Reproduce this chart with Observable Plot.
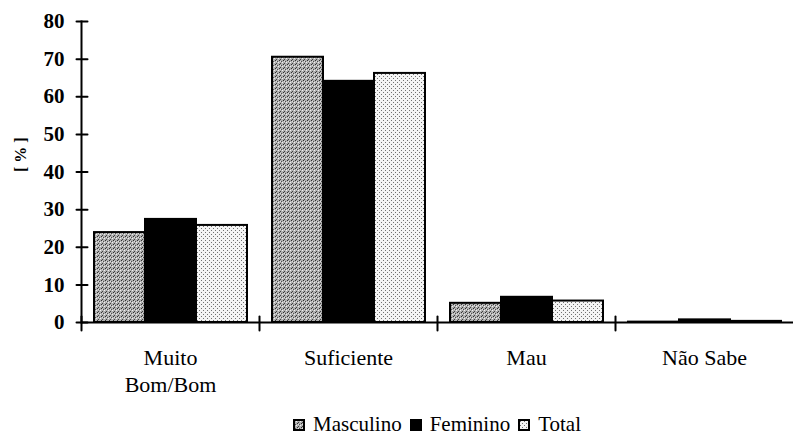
<!DOCTYPE html>
<html><head><meta charset="utf-8">
<script src="https://cdn.jsdelivr.net/npm/d3@7"></script>
<script src="https://cdn.jsdelivr.net/npm/@observablehq/plot@0.6"></script>
<style>
body{margin:0;background:#fff;font-family:serif;}
#wrap{position:relative;width:795px;height:437px;font-family:serif;}
#legend{position:absolute;left:80px;width:714px;top:414px;display:flex;justify-content:center;align-items:center;font-size:21px;line-height:21px;color:#000;font-family:serif;}
#legend .item{display:flex;align-items:center;margin:0 4px;}
#legend svg{margin-right:8px;}
svg text{font-family:serif;}
</style>
</head><body>
<svg width="0" height="0" style="position:absolute"><defs>
<pattern id="pMasc" width="4" height="4" patternUnits="userSpaceOnUse">
 <rect width="4" height="4" fill="#b0b0b0"/>
 <rect x="0" y="0" width="1" height="1" fill="#303030"/>
 <rect x="2" y="1" width="1" height="1" fill="#505050"/>
 <rect x="1" y="3" width="1" height="1" fill="#404040"/>
 <rect x="3" y="2" width="1" height="1" fill="#f0f0f0"/>
 <rect x="1" y="1" width="1" height="1" fill="#e0e0e0"/>
</pattern>
<pattern id="pTot" width="4" height="4" patternUnits="userSpaceOnUse">
 <rect width="4" height="4" fill="#f4f4f4"/>
 <rect x="0" y="0" width="1" height="1" fill="#707070"/>
 <rect x="2" y="2" width="1" height="1" fill="#707070"/>
</pattern>
</defs></svg>
<div id="wrap"><div id="chart"></div><div id="legend"></div></div>
<script>
const categories = ["Muito\nBom/Bom", "Suficiente", "Mau", "Não Sabe"];
const seriesNames = ["Masculino", "Feminino", "Total"];
const masculino = [23.9, 70.5, 5.1, 0.1];
const feminino = [27.4, 64.1, 6.7, 0.7];
const total = [25.8, 66.2, 5.7, 0.3];
const yTicks = [0, 10, 20, 30, 40, 50, 60, 70, 80];
const yLabel = "[ % ]";
const fills = ["url(#pMasc)", "#000", "url(#pTot)"];

const seriesValues = [masculino, feminino, total];
const rows = [];
categories.forEach((c, i) => seriesNames.forEach((s, j) => rows.push({category: c, series: s, value: seriesValues[j][i]})));

const tickShape = {draw(context, l) { context.moveTo(0, 0); context.lineTo(0, -l); }};

const chart = Plot.plot({
  width: 795, height: 400,
  marginLeft: 80, marginRight: 1, marginTop: 21, marginBottom: 78,
  style: "background:white;color:black;overflow:visible;font-family:serif;",
  fx: {domain: categories, padding: 0, label: null},
  x: {domain: seriesNames, paddingInner: 0, paddingOuter: 0.235, axis: null},
  y: {domain: [0, 80], label: null},
  color: {domain: seriesNames, range: fills},
  marks: [
    Plot.barY(rows, {fx: "category", x: "series", y: "value", fill: "series", stroke: "#000", strokeWidth: 2}),
    Plot.ruleY([0], {stroke: "#000", strokeWidth: 2}),
    Plot.frame({anchor: "left", facetAnchor: "left", stroke: "#000", strokeWidth: 2}),
    Plot.vector(yTicks, {y: d => d, frameAnchor: "left", facetAnchor: "left", length: 11, rotate: 90, anchor: "middle", shape: tickShape, stroke: "#000", strokeWidth: 2, dx: 0.5}),
    Plot.vector([0], {frameAnchor: "bottom-left", length: 14, rotate: 0, anchor: "middle", shape: tickShape, stroke: "#000", strokeWidth: 2, dy: 1}),
    Plot.axisY(yTicks, {tickSize: 0, tickPadding: 17, fontSize: 21, fontWeight: "bold", fontFamily: "serif", label: null}),
    Plot.text([yLabel], {frameAnchor: "left", facetAnchor: "left", dx: -61, rotate: -90, fontSize: 16, fontWeight: "bold", fontFamily: "serif"}),
    Plot.axisFx({anchor: "bottom", tickSize: 0, tickPadding: 24, fontSize: 22, lineHeight: 1.2, fontFamily: "serif", label: null})
  ]
});
document.getElementById("chart").appendChild(chart);

const legend = document.getElementById("legend");
seriesNames.forEach((s, j) => {
  const item = document.createElement("span");
  item.className = "item";
  item.innerHTML = `<svg width="12" height="12"><rect x="1" y="1" width="10" height="10" fill="${fills[j]}" stroke="#000" stroke-width="2"/></svg><span>${s}</span>`;
  legend.appendChild(item);
});
</script>
</body></html>
